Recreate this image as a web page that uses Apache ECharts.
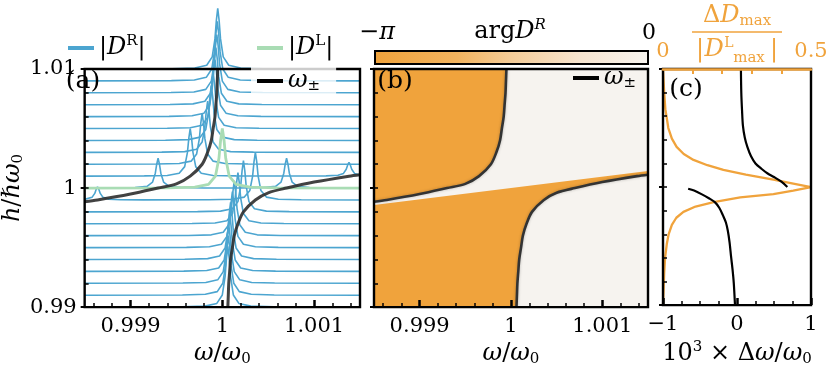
<!DOCTYPE html>
<html lang="en">
<head>
<meta charset="utf-8">
<title>Resonance spectra</title>
<script src="https://cdn.jsdelivr.net/npm/echarts@6.0.0/dist/echarts.min.js"></script>
<style>
  html, body { margin: 0; padding: 0; background: #fff; }
  #main { width: 831px; height: 372px; }
</style>
</head>
<body>
<div id="main"></div>
<script type="text/javascript">
// x values are 1e3*(w/w0 - 1), y values are 1e3*(h/hbar w0 - 1)
var X_MIN = -1.5, X_MAX = 1.5, Y_MIN = -10, Y_MAX = 10;

var hLevels = [10, 9, 8, 7, 6, 5, 4, 3, 2, 1, 0, -1, -2, -3, -4, -5, -6, -7, -8, -9, -10];

// |D^R| trace for each h level: [x, height above its level]
var drTraces = [
  [[-1.5,0],[-0.55,0.02],[-0.3,0.08],[-0.17,0.31],[-0.11,1.02],[-0.08,2.55],[-0.065,4.08],[-0.05,5.1],[-0.035,4.08],[-0.02,2.55],[0.01,1.02],[0.07,0.31],[0.2,0.08],[0.45,0.02],[1.5,0]],
  [[-1.5,0],[-0.555,0.02],[-0.305,0.075],[-0.175,0.3],[-0.115,1.0],[-0.085,2.5],[-0.07,4.0],[-0.055,5.0],[-0.04,4.0],[-0.025,2.5],[0.005,1.0],[0.065,0.3],[0.195,0.075],[0.445,0.02],[1.5,0]],
  [[-1.5,0],[-0.56,0.02],[-0.31,0.07],[-0.18,0.29],[-0.12,0.98],[-0.09,2.45],[-0.075,3.92],[-0.06,4.9],[-0.045,3.92],[-0.03,2.45],[0,0.98],[0.06,0.29],[0.19,0.07],[0.44,0.02],[1.5,0]],
  [[-1.5,0],[-0.57,0.02],[-0.32,0.07],[-0.19,0.29],[-0.13,0.96],[-0.1,2.4],[-0.085,3.84],[-0.07,4.8],[-0.055,3.84],[-0.04,2.4],[-0.01,0.96],[0.05,0.29],[0.18,0.07],[0.43,0.02],[1.5,0]],
  [[-1.5,0],[-0.58,0.02],[-0.33,0.07],[-0.2,0.29],[-0.14,0.96],[-0.11,2.4],[-0.095,3.84],[-0.08,4.8],[-0.065,3.84],[-0.05,2.4],[-0.02,0.96],[0.04,0.29],[0.17,0.07],[0.42,0.02],[1.5,0]],
  [[-1.5,0],[-0.6,0.02],[-0.35,0.07],[-0.22,0.28],[-0.16,0.94],[-0.13,2.35],[-0.115,3.76],[-0.1,4.7],[-0.085,3.76],[-0.07,2.35],[-0.04,0.94],[0.02,0.28],[0.15,0.07],[0.4,0.02],[1.5,0]],
  [[-1.5,0],[-0.62,0.02],[-0.37,0.07],[-0.24,0.28],[-0.18,0.92],[-0.15,2.3],[-0.135,3.68],[-0.12,4.6],[-0.105,3.68],[-0.09,2.3],[-0.06,0.92],[0,0.28],[0.13,0.07],[0.38,0.02],[1.5,0]],
  [[-1.5,0],[-0.66,0.02],[-0.41,0.06],[-0.28,0.26],[-0.22,0.86],[-0.19,2.15],[-0.175,3.44],[-0.16,4.3],[-0.145,3.44],[-0.13,2.15],[-0.1,0.86],[-0.04,0.26],[0.09,0.06],[0.34,0.02],[1.5,0]],
  [[-1.5,0],[-0.72,0.02],[-0.47,0.06],[-0.34,0.26],[-0.28,0.86],[-0.25,2.15],[-0.235,3.44],[-0.22,4.3],[-0.205,3.44],[-0.19,2.15],[-0.16,0.86],[-0.1,0.26],[0.03,0.06],[0.28,0.02],[1.5,0]],
  [[-1.5,0],[-0.85,0.02],[-0.6,0.06],[-0.47,0.24],[-0.41,0.8],[-0.38,2.0],[-0.365,3.2],[-0.35,4.0],[-0.335,3.2],[-0.32,2.0],[-0.29,0.8],[-0.23,0.24],[-0.1,0.06],[0.15,0.02],[0.88,0.01],[1.13,0.02],[1.26,0.07],[1.32,0.23],[1.35,0.58],[1.365,0.92],[1.38,1.15],[1.395,0.92],[1.41,0.58],[1.44,0.23],[1.5,0.1]],
  [[-1.5,0],[-1.2,0.01],[-0.95,0.04],[-0.82,0.15],[-0.76,0.5],[-0.73,1.25],[-0.715,2.0],[-0.7,2.5],[-0.685,2.0],[-0.67,1.25],[-0.64,0.5],[-0.58,0.15],[-0.45,0.04],[-0.2,0.01],[0.2,0.01],[0.45,0.04],[0.58,0.15],[0.64,0.5],[0.67,1.25],[0.685,2.0],[0.7,2.5],[0.715,2.0],[0.73,1.25],[0.76,0.5],[0.82,0.15],[0.95,0.04],[1.2,0.01],[1.5,0]],
  [[-1.5,0.05],[-1.42,0.22],[-1.39,0.55],[-1.375,0.88],[-1.36,1.1],[-1.345,0.88],[-1.33,0.55],[-1.3,0.22],[-1.24,0.07],[-1.11,0.02],[-0.86,0.01],[-0.14,0.02],[0.11,0.06],[0.24,0.24],[0.3,0.8],[0.33,2.0],[0.345,3.2],[0.36,4.0],[0.375,3.2],[0.39,2.0],[0.42,0.8],[0.48,0.24],[0.61,0.06],[0.86,0.02],[1.5,0]],
  [[-1.5,0],[-0.27,0.02],[-0.02,0.06],[0.11,0.26],[0.17,0.86],[0.2,2.15],[0.215,3.44],[0.23,4.3],[0.245,3.44],[0.26,2.15],[0.29,0.86],[0.35,0.26],[0.48,0.06],[0.73,0.02],[1.5,0]],
  [[-1.5,0],[-0.33,0.02],[-0.08,0.06],[0.05,0.26],[0.11,0.86],[0.14,2.15],[0.155,3.44],[0.17,4.3],[0.185,3.44],[0.2,2.15],[0.23,0.86],[0.29,0.26],[0.42,0.06],[0.67,0.02],[1.5,0]],
  [[-1.5,0],[-0.37,0.02],[-0.12,0.07],[0.01,0.28],[0.07,0.92],[0.1,2.3],[0.115,3.68],[0.13,4.6],[0.145,3.68],[0.16,2.3],[0.19,0.92],[0.25,0.28],[0.38,0.07],[0.63,0.02],[1.5,0]],
  [[-1.5,0],[-0.39,0.02],[-0.14,0.07],[-0.01,0.28],[0.05,0.94],[0.08,2.35],[0.095,3.76],[0.11,4.7],[0.125,3.76],[0.14,2.35],[0.17,0.94],[0.23,0.28],[0.36,0.07],[0.61,0.02],[1.5,0]],
  [[-1.5,0],[-0.41,0.02],[-0.16,0.07],[-0.03,0.29],[0.03,0.96],[0.06,2.4],[0.075,3.84],[0.09,4.8],[0.105,3.84],[0.12,2.4],[0.15,0.96],[0.21,0.29],[0.34,0.07],[0.59,0.02],[1.5,0]],
  [[-1.5,0],[-0.42,0.02],[-0.17,0.07],[-0.04,0.29],[0.02,0.96],[0.05,2.4],[0.065,3.84],[0.08,4.8],[0.095,3.84],[0.11,2.4],[0.14,0.96],[0.2,0.29],[0.33,0.07],[0.58,0.02],[1.5,0]],
  [[-1.5,0],[-0.43,0.02],[-0.18,0.07],[-0.05,0.29],[0.01,0.98],[0.04,2.45],[0.055,3.92],[0.07,4.9],[0.085,3.92],[0.1,2.45],[0.13,0.98],[0.19,0.29],[0.32,0.07],[0.57,0.02],[1.5,0]],
  [[-1.5,0],[-0.435,0.02],[-0.185,0.075],[-0.055,0.3],[0.005,1.0],[0.035,2.5],[0.05,4.0],[0.065,5.0],[0.08,4.0],[0.095,2.5],[0.125,1.0],[0.185,0.3],[0.315,0.075],[0.565,0.02],[1.5,0]],
  [[-1.5,0],[-0.44,0.02],[-0.19,0.08],[-0.06,0.31],[0,1.02],[0.03,2.55],[0.045,4.08],[0.06,5.1],[0.075,4.08],[0.09,2.55],[0.12,1.02],[0.18,0.31],[0.31,0.08],[0.56,0.02],[1.5,0]]
];

// |D^L| at h = hbar w0
var dlTrace = [[-1.5,0],[-0.6,0.02],[-0.3,0.075],[-0.15,0.3],[-0.075,1.0],[-0.037,2.5],[-0.019,4.0],[0,5.0],[0.019,4.0],[0.037,2.5],[0.075,1.0],[0.15,0.3],[0.3,0.075],[0.6,0.02],[1.5,0]];

// w+- branches
var branchUpper = [[-1.5,-1.15],[-1.36,-1.0],[-1.0,-0.5],[-0.7,0],[-0.5,0.35],[-0.35,1],[-0.22,2],[-0.16,3],[-0.12,4],[-0.1,5],[-0.08,6],[-0.07,7],[-0.06,8],[-0.055,9],[-0.05,10]];
var branchLower = [[0.06,-10],[0.065,-9],[0.07,-8],[0.08,-7],[0.09,-6],[0.11,-5],[0.13,-4],[0.17,-3],[0.23,-2],[0.36,-1],[0.5,-0.4],[0.7,0],[1.0,0.5],[1.38,1.0],[1.5,1.12]];

// phase jump line of arg D^R
var phaseLine = [[-1.5,-1.42],[1.5,1.44]];

// panel (c): 1e3*dw/w0 and dDmax/|DLmax|
var cUpper = [[0.053,10],[0.058,8],[0.068,6.5],[0.08,5.2],[0.105,4.2],[0.14,3.4],[0.19,2.6],[0.25,2.0],[0.33,1.55],[0.41,1.17],[0.5,0.85],[0.6,0.45],[0.68,0.0]];
var cLower = [[-0.66,-0.14],[-0.58,-0.3],[-0.48,-0.6],[-0.38,-0.95],[-0.3,-1.28],[-0.24,-1.75],[-0.19,-2.4],[-0.15,-3.0],[-0.124,-3.7],[-0.1,-4.7],[-0.08,-5.9],[-0.06,-7.0],[-0.044,-8.1],[-0.027,-10]];
var cDelta = [[0,10],[0.004,8],[0.008,6.6],[0.018,5],[0.03,4.1],[0.046,3.4],[0.07,2.8],[0.103,2.3],[0.15,1.85],[0.204,1.45],[0.28,1.05],[0.373,0.63],[0.44,0.3],[0.5,0],[0.44,-0.3],[0.373,-0.6],[0.261,-0.87],[0.171,-1.28],[0.11,-1.65],[0.069,-2.1],[0.045,-2.6],[0.03,-3.2],[0.019,-4],[0.013,-4.8],[0.007,-6],[0.004,-7.3],[0.002,-8.7],[0,-10]];

var xMinorTicks = [-1.4,-1.2,-0.8,-0.6,-0.4,-0.2,0.2,0.4,0.6,0.8,1.2,1.4];
var xMajorTicks = [-1, 0, 1];
var cMinorTicks = [-0.75,-0.5,-0.25,0.25,0.5,0.75];
var cTopTicks = [0.1,0.2,0.3,0.4];
var yMajorTicks = [-10, 0, 10];

var FONT = 'DejaVu Serif';
var BLUE = '#4ca5d0', GREEN = '#a9dcb4', ORANGE = '#f0a33c', DARK = 'rgba(45,45,45,0.9)';
var PAPER = '#f6f3ef';

function makeRich(color, size) {
  size = size || 21;
  var s = Math.round(size * 0.62);
  return {
    r: {fontFamily: FONT, fontSize: size, color: color},
    i: {fontFamily: FONT, fontSize: size, fontStyle: 'italic', color: color},
    sup: {fontFamily: FONT, fontSize: s, color: color, padding: [0, 0, Math.round(size * 0.55), 0]},
    isup: {fontFamily: FONT, fontSize: s, fontStyle: 'italic', color: color, padding: [0, 0, Math.round(size * 0.55), 0]},
    sub: {fontFamily: FONT, fontSize: s, color: color, padding: [Math.round(size * 0.45), 0, 0, 0]}
  };
}
var richK = makeRich('#000', 24);
var richO = makeRich(ORANGE, 24);

function fmtOmega(v) { return String(+(1 + v / 1000).toFixed(4)); }
function fmtH(v) { return String(+(1 + v / 1000).toFixed(3)); }

function xAxes(grid, min, max, minor, major, fmt, name) {
  return [{
    gridIndex: grid, type: 'value', min: min, max: max, position: 'bottom', z: 11,
    axisLine: {show: false, onZero: false}, splitLine: {show: false},
    axisTick: {show: true, inside: true, length: 4, customValues: minor, lineStyle: {color: '#000', width: 1.5}},
    axisLabel: {customValues: major, formatter: fmt, fontFamily: FONT, fontSize: 21, color: '#000', margin: 9},
    name: name, nameLocation: 'middle', nameGap: 31,
    nameTextStyle: {fontFamily: FONT, fontSize: 24, color: '#000', rich: richK}
  }, {
    gridIndex: grid, type: 'value', min: min, max: max, position: 'bottom', z: 11,
    axisLine: {show: false, onZero: false}, splitLine: {show: false}, axisLabel: {show: false},
    axisTick: {show: true, inside: true, length: 7, customValues: major, lineStyle: {color: '#000', width: 2.5}}
  }];
}

function yAxes(grid, labels, name) {
  return [{
    gridIndex: grid, type: 'value', min: Y_MIN, max: Y_MAX, interval: 2, position: 'left', z: 11,
    axisLine: {show: false, onZero: false}, splitLine: {show: false},
    axisTick: {show: true, inside: true, length: 4, lineStyle: {color: '#000', width: 1.5}},
    axisLabel: labels ? {customValues: yMajorTicks, formatter: fmtH, fontFamily: FONT, fontSize: 21, color: '#000', margin: 8} : {show: false},
    name: name || '', nameLocation: 'middle', nameGap: 40, nameRotate: 90,
    nameTextStyle: {fontFamily: FONT, fontSize: 24, color: '#000', rich: richK}
  }, {
    gridIndex: grid, type: 'value', min: Y_MIN, max: Y_MAX, position: 'left', z: 11,
    axisLine: {show: false, onZero: false}, splitLine: {show: false}, axisLabel: {show: false},
    axisTick: {show: true, inside: false, length: 4, customValues: yMajorTicks, lineStyle: {color: '#000', width: 2}}
  }];
}

var xAxisList = []
  .concat(xAxes(0, X_MIN, X_MAX, xMinorTicks, xMajorTicks, fmtOmega, '{i|ω}/{i|ω}{sub|0}'))
  .concat(xAxes(1, X_MIN, X_MAX, xMinorTicks, xMajorTicks, fmtOmega, '{i|ω}/{i|ω}{sub|0}'))
  .concat(xAxes(2, -1, 1, cMinorTicks, xMajorTicks, function (v) { return v < 0 ? '−' + (-v) : String(v); },
    '10{sup|3} × Δ{i|ω}/{i|ω}{sub|0}'));
xAxisList.push({
  gridIndex: 2, type: 'value', min: 0, max: 0.5, position: 'top', z: 12,
  axisLine: {show: true, onZero: false, lineStyle: {color: ORANGE, width: 2.6}}, splitLine: {show: false},
  axisTick: {show: true, inside: true, length: 5, customValues: cTopTicks, lineStyle: {color: ORANGE, width: 2}},
  axisLabel: {customValues: [0, 0.5], formatter: function (v) { return String(v); },
    fontFamily: FONT, fontSize: 21, color: ORANGE, margin: 7}
});

var yAxisList = []
  .concat(yAxes(0, true, '{i|h}/ℏ{i|ω}{sub|0}'))
  .concat(yAxes(1, false))
  .concat(yAxes(2, false));

var series = [];
hLevels.forEach(function (h, i) {
  series.push({
    type: 'line', name: 'DR', xAxisIndex: 0, yAxisIndex: 0, z: 2,
    data: drTraces[i].map(function (p) { return [p[0], h + p[1]]; }),
    symbol: 'none', clip: false, silent: true,
    lineStyle: {color: BLUE, width: 1.6}, itemStyle: {color: BLUE}
  });
});
series.push({
  type: 'line', name: 'DL', xAxisIndex: 0, yAxisIndex: 0, z: 3,
  data: dlTrace.map(function (p) { return [p[0], p[1]]; }),
  symbol: 'none', silent: true,
  lineStyle: {color: GREEN, width: 2.8}, itemStyle: {color: GREEN}
});
[branchUpper, branchLower].forEach(function (b) {
  series.push({
    type: 'line', name: 'wpm', xAxisIndex: 0, yAxisIndex: 0, z: 4,
    data: b, symbol: 'none', smooth: 0.3, silent: true,
    lineStyle: {color: DARK, width: 3}, itemStyle: {color: '#000'}
  });
});

// panel (b): phase map as filled regions
var phasePolys = [
  [[X_MIN, Y_MIN], [X_MAX, Y_MIN], [X_MAX, Y_MAX], [X_MIN, Y_MAX]],
  [[X_MIN, Y_MAX]].concat(branchUpper.slice().reverse()),
  [phaseLine[0], phaseLine[1]].concat(branchLower.slice().reverse()).concat([[X_MIN, Y_MIN]])
];
var phaseFills = [PAPER, ORANGE, ORANGE];
series.push({
  type: 'custom', name: 'argDR', xAxisIndex: 2, yAxisIndex: 2, z: 1, clip: true, silent: true,
  data: phasePolys.map(function (p) { return p[0]; }),
  renderItem: function (params, api) {
    var poly = phasePolys[params.dataIndex];
    return {
      type: 'polygon',
      shape: {points: poly.map(function (p) { return api.coord(p); })},
      style: {fill: phaseFills[params.dataIndex], stroke: null}
    };
  }
});
[branchUpper, branchLower].forEach(function (b) {
  series.push({
    type: 'line', name: 'wpmB', xAxisIndex: 2, yAxisIndex: 2, z: 4,
    data: b, symbol: 'none', smooth: 0.3, silent: true,
    lineStyle: {color: '#333', width: 2.6, shadowColor: 'rgba(0,0,0,0.25)', shadowBlur: 3},
    itemStyle: {color: '#000'}
  });
});

// panel (c)
series.push({
  type: 'line', name: 'dD', xAxisIndex: 6, yAxisIndex: 4, z: 3,
  data: cDelta, symbol: 'none', silent: true,
  lineStyle: {color: ORANGE, width: 2.3}
});
[cUpper, cLower].forEach(function (b) {
  series.push({
    type: 'line', name: 'dw', xAxisIndex: 4, yAxisIndex: 4, z: 4,
    data: b, symbol: 'none', smooth: 0.3, silent: true,
    lineStyle: {color: '#000', width: 2.2}
  });
});

var legendNames = {
  DR: '|{i|D}{sup|R}|',
  DL: '|{i|D}{sup|L}|',
  wpm: '{i|ω}{sub|±}',
  wpmB: '{i|ω}{sub|±}'
};
function legendAt(name, left, top, extra) {
  var l = {
    data: [name], left: left, top: top, padding: 0, z: 12,
    icon: 'rect', itemWidth: 26, itemHeight: 4, selectedMode: false,
    formatter: function (n) { return legendNames[n]; },
    textStyle: {fontFamily: FONT, fontSize: 24, color: '#000', rich: richK}
  };
  for (var k in extra) { l[k] = extra[k]; }
  return l;
}

function txt(x, y, text, opt) {
  opt = opt || {};
  return {
    type: 'text', x: x, y: y, z: 20, silent: true,
    style: {
      text: text, fontFamily: FONT, fontSize: opt.size || 24, fill: opt.color || '#000',
      fontStyle: opt.italic ? 'italic' : 'normal',
      align: opt.align || 'center', verticalAlign: 'middle',
      rich: opt.color === ORANGE ? richO : richK
    }
  };
}

var option = {
  animation: false,
  backgroundColor: '#fff',
  grid: [
    {left: 62, top: 69, width: 298, height: 244, show: true, z: 10, backgroundColor: 'transparent', borderColor: '#000', borderWidth: 2.4},
    {left: 374, top: 69, width: 274, height: 244, show: true, z: 10, backgroundColor: 'transparent', borderColor: '#000', borderWidth: 2.4},
    {left: 663, top: 69, width: 148, height: 244, show: true, z: 10, backgroundColor: 'transparent', borderColor: '#000', borderWidth: 2.4}
  ],
  xAxis: xAxisList,
  yAxis: yAxisList,
  legend: [
    legendAt('DR', 68, 34),
    legendAt('DL', 257, 34),
    legendAt('wpm', 251, 66, {padding: [3, 16, 3, 6], backgroundColor: 'rgba(255,255,255,0.8)'}),
    legendAt('wpmB', 573, 66)
  ],
  graphic: [
    {
      type: 'rect', z: 20, silent: true,
      shape: {x: 375, y: 51, width: 273, height: 13},
      style: {
        fill: {type: 'linear', x: 0, y: 0, x2: 1, y2: 0, colorStops: [
          {offset: 0, color: '#efa23b'}, {offset: 0.3, color: '#f2b35e'},
          {offset: 0.5, color: '#f4cc98'}, {offset: 0.75, color: '#f6e4cf'},
          {offset: 1, color: '#f7f4f0'}]},
        stroke: '#000', lineWidth: 2
      }
    },
    txt(377, 33, '−{i|π}'),
    txt(510, 32, 'arg{i|D}{isup|R}'),
    txt(649, 33, '0', {size: 22}),
    txt(83, 81, '(a)', {size: 25}),
    txt(395, 81, '(b)', {size: 25}),
    txt(686, 89, '(c)', {size: 25}),
    txt(737, 16, '{r|Δ}{i|D}{sub|max}', {color: ORANGE}),
    {type: 'line', z: 20, silent: true, shape: {x1: 692, y1: 32, x2: 782, y2: 32}, style: {stroke: ORANGE, lineWidth: 1.5}},
    txt(700, 50, '|', {color: ORANGE}),
    txt(714, 50, 'D', {color: ORANGE, italic: true}),
    txt(729, 43, 'L', {color: ORANGE, size: 14}),
    txt(749, 58, 'max', {color: ORANGE, size: 15}),
    txt(774, 50, '|', {color: ORANGE})
  ],
  series: series
};

var myChart = echarts.init(document.getElementById('main'));
myChart.setOption(option);
</script>
</body>
</html>
